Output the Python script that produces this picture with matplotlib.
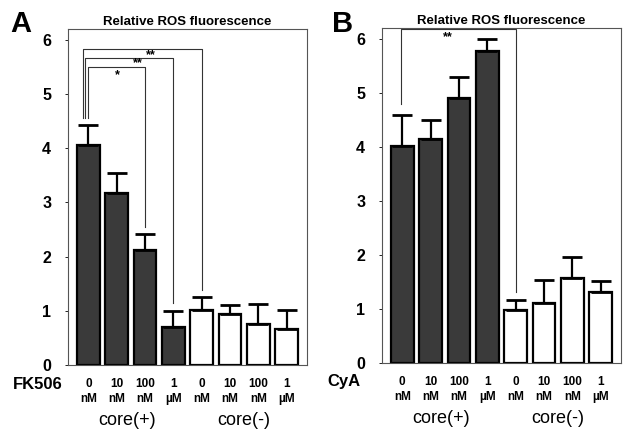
import numpy as np
import matplotlib
matplotlib.use("Agg")
import matplotlib.pyplot as plt

plt.rcParams['font.family'] = ['Liberation Sans', 'DejaVu Sans']

# data
doses = ['0', '10', '100', '1', '0', '10', '100', '1']
units = ['nM', 'nM', 'nM', 'µM', 'nM', 'nM', 'nM', 'µM']
fk_mean = [4.05, 3.18, 2.12, 0.70, 1.02, 0.95, 0.75, 0.67]
fk_err = [0.37, 0.37, 0.30, 0.29, 0.23, 0.16, 0.37, 0.34]
cya_mean = [4.02, 4.14, 4.90, 5.78, 0.98, 1.11, 1.57, 1.31]
cya_err = [0.56, 0.36, 0.40, 0.21, 0.19, 0.42, 0.39, 0.21]
fill_colors = ['#3a3a3a'] * 4 + ['white'] * 4


def draw_panel(ax, means, errs, drug, drug_x):
    x = np.arange(len(means))
    ax.bar(x, means, width=0.8, color=fill_colors, edgecolor='black', linewidth=1.6)
    ax.errorbar(x, means, yerr=[np.zeros(len(errs)), errs], fmt='none',
                ecolor='black', elinewidth=1.6, capsize=7.5, capthick=2)
    ax.set_xlim(-0.72, 7.72)
    ax.set_ylim(0, 6.2)
    ax.set_yticks(range(7))
    ax.set_yticklabels([str(i) for i in range(7)], fontsize=11.5, fontweight='bold')
    ax.tick_params(axis='y', length=2, width=0.6, pad=10)
    ax.set_xticks(x)
    ax.set_xticklabels([])
    ax.tick_params(axis='x', length=0)
    for s in ax.spines.values():
        s.set_linewidth(0.8)
        s.set_color('#555555')
    ax.set_title('Relative ROS fluorescence', fontsize=9.5, fontweight='bold', pad=3)
    for i in x:
        ax.text(i, -0.35, doses[i], ha='center', va='center', fontsize=8.5, fontweight='bold')
        ax.text(i, -0.63, units[i], ha='center', va='center', fontsize=8.5, fontweight='bold')
    ax.text(drug_x, -0.35, drug, ha='right', va='center', fontsize=12, fontweight='bold')
    ax.text(1.35, -1.02, 'core(+)', ha='center', va='center', fontsize=13)
    ax.text(5.5, -1.02, 'core(-)', ha='center', va='center', fontsize=13)


def bracket(ax, x0, x1, y0, ytop, y1, color='#333333'):
    ax.plot([x0, x0, x1, x1], [y0, ytop, ytop, y1], color=color, lw=0.8, clip_on=False)


fig = plt.figure(figsize=(6.23, 4.30), dpi=100)
axA = fig.add_axes([0.109, 0.151, 0.384, 0.782])
axB = fig.add_axes([0.613, 0.156, 0.384, 0.779])

draw_panel(axA, fk_mean, fk_err, 'FK506', -0.9)
draw_panel(axB, cya_mean, cya_err, 'CyA', -1.48)

# significance brackets, panel A
bracket(axA, -0.2, 4.0, 4.55, 5.82, 1.38)
bracket(axA, -0.1, 3.0, 4.55, 5.66, 1.14)
bracket(axA, 0.0, 2.0, 4.55, 5.50, 2.55)
axA.text(1.02, 5.35, '*', ha='center', va='center', fontsize=9, fontweight='bold')
axA.text(1.75, 5.56, '**', ha='center', va='center', fontsize=9, fontweight='bold')
axA.text(2.2, 5.72, '**', ha='center', va='center', fontsize=9, fontweight='bold')

# significance bracket, panel B
bracket(axB, -0.05, 4.0, 4.80, 6.18, 1.32)
axB.text(1.62, 6.03, '**', ha='center', va='center', fontsize=9, fontweight='bold')

fig.text(0.016, 0.945, 'A', fontsize=21, fontweight='bold', va='center')
fig.text(0.533, 0.945, 'B', fontsize=21, fontweight='bold', va='center')

fig.savefig('out.png', dpi=100)
